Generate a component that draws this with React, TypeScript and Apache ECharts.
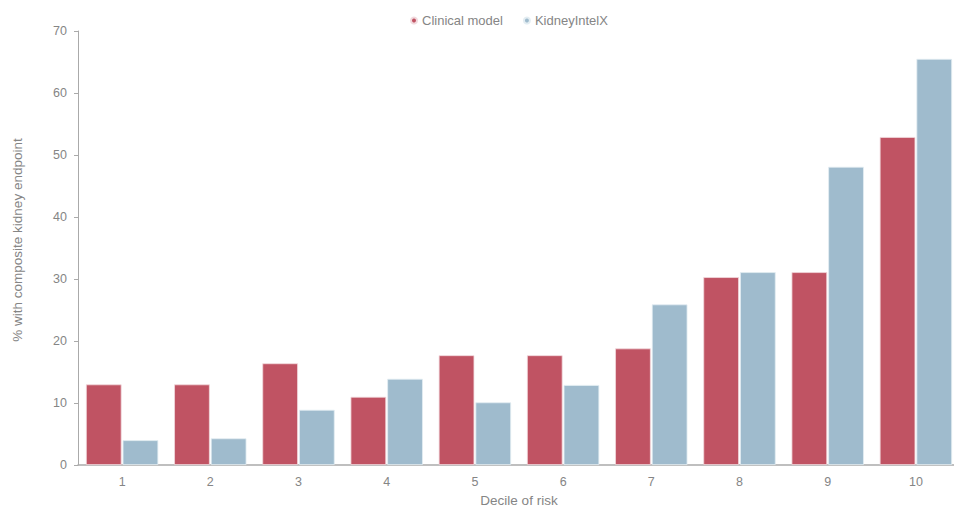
import React, { useEffect, useRef } from "react";
import * as echarts from "echarts";

const categories = ["1", "2", "3", "4", "5", "6", "7", "8", "9", "10"];
const clinicalModel = [13.0, 13.0, 16.4, 11.0, 17.7, 17.7, 18.8, 30.3, 31.1, 52.9];
const kidneyIntelX = [4.0, 4.3, 8.9, 13.9, 10.1, 12.9, 25.9, 31.1, 48.1, 65.5];
const yTicks = { min: 0, max: 70, interval: 10 };

const FONT = "Liberation Sans, Arial, sans-serif";
const TXT = "#858585";

export default function App() {
  const ref = useRef<HTMLDivElement>(null);
  useEffect(() => {
    document.body.style.margin = "0";
    if (!ref.current) return;
    const chart = echarts.init(ref.current, undefined, { renderer: "svg" });
    chart.setOption({
      animation: false,
      textStyle: { fontFamily: FONT },
      legend: {
        top: 9,
        left: 405,
        itemWidth: 6,
        itemHeight: 6,
        itemGap: 20,
        icon: "circle",
        textStyle: { color: TXT, fontSize: 13, fontFamily: FONT },
        data: ["Clinical model", "KidneyIntelX"],
      },
      grid: { left: 78, right: -6, top: 31, bottom: 47, outerBoundsMode: "none", containLabel: false },
      xAxis: {
        type: "category",
        data: categories,
        name: "Decile of risk",
        nameLocation: "middle",
        nameGap: 28,
        nameTextStyle: { color: TXT, fontSize: 13.5, fontFamily: FONT },
        axisLine: { lineStyle: { color: "#aaa", width: 1.5 } },
        axisTick: { show: false },
        axisLabel: { color: TXT, fontSize: 12.5, margin: 10, fontFamily: FONT },
      },
      yAxis: {
        type: "value",
        min: yTicks.min,
        max: yTicks.max,
        interval: yTicks.interval,
        name: "% with composite kidney endpoint",
        nameLocation: "middle",
        nameGap: 54,
        nameRotate: 90,
        nameTextStyle: { color: TXT, fontSize: 13.5, fontFamily: FONT, padding: [0, 0, 0, 16] },
        axisLine: { show: true, lineStyle: { color: "#aaa", width: 1 } },
        axisTick: { show: true, inside: false, length: 4, lineStyle: { color: "#aaa" } },
        splitLine: { show: false },
        axisLabel: { color: TXT, fontSize: 12.5, margin: 11, fontFamily: FONT },
      },
      series: [
        {
          name: "Clinical model",
          type: "bar",
          data: clinicalModel,
          barGap: "3%",
          barCategoryGap: "18%",
          itemStyle: { color: "#c05363", borderColor: "#f1d9dd", borderWidth: 0.8 },
        },
        {
          name: "KidneyIntelX",
          type: "bar",
          data: kidneyIntelX,
          barGap: "3%",
          barCategoryGap: "18%",
          itemStyle: { color: "#9fbbcd", borderColor: "#e3edf2", borderWidth: 0.8 },
        },
      ],
    });
    return () => chart.dispose();
  }, []);
  return <div ref={ref} style={{ width: 954, height: 512 }} />;
}
